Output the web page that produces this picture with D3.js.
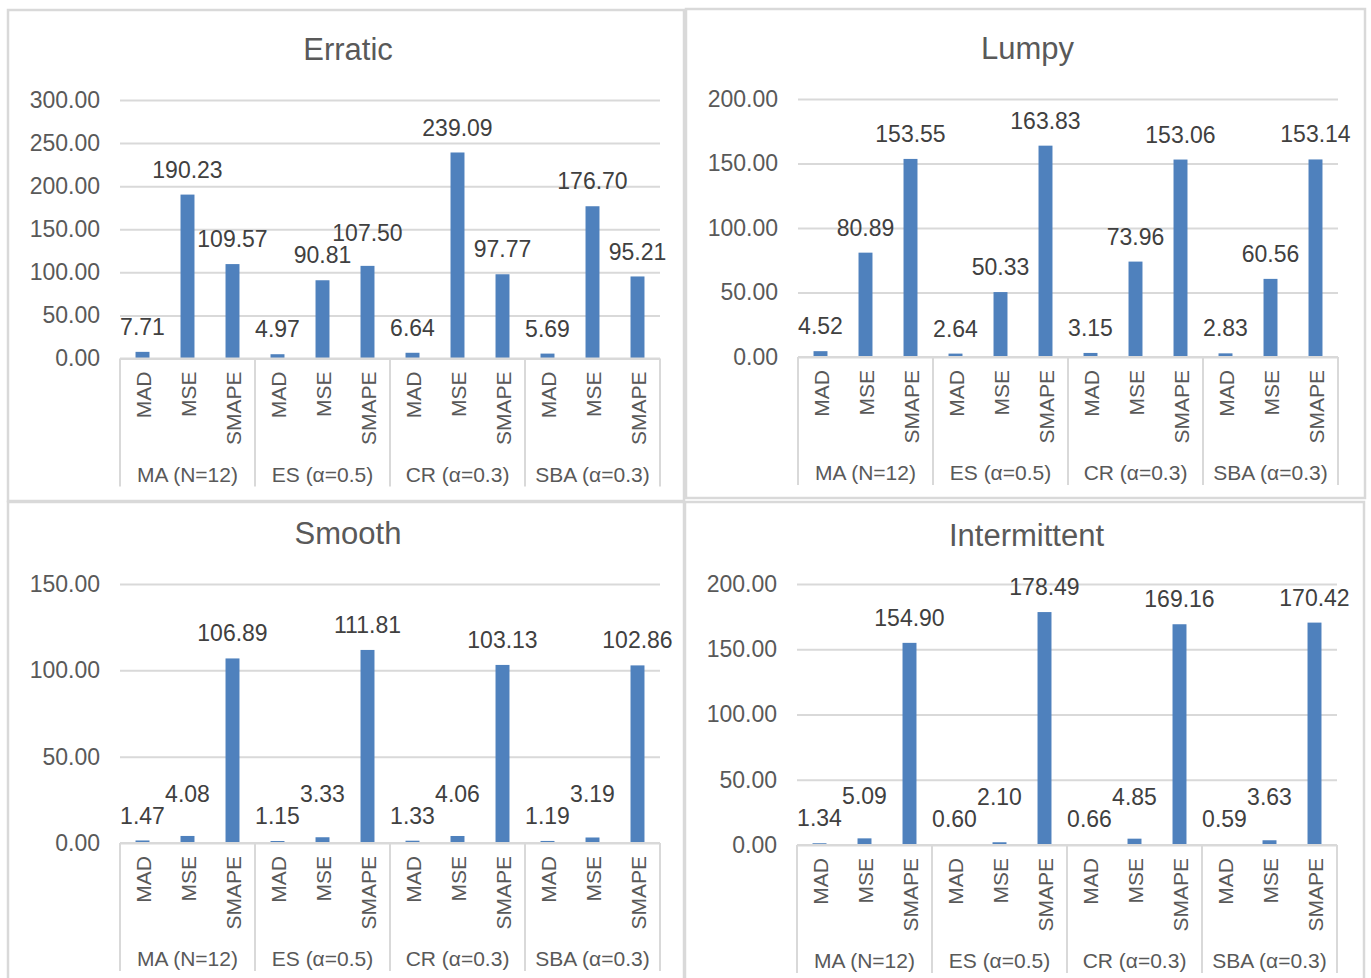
<!DOCTYPE html>
<html>
<head>
<meta charset="utf-8">
<script src="https://cdn.jsdelivr.net/npm/d3@7"></script>
<style>
  html, body { margin: 0; padding: 0; background: #fff; }
  svg { display: block; font-family: "Liberation Sans", Arial, sans-serif; }
</style>
</head>
<body>
<svg id="chart" width="1371" height="978"></svg>
<script>
// Forecasting methods (outer category level) and error metrics (inner level)
const methods = ["MA (N=12)", "ES (α=0.5)", "CR (α=0.3)", "SBA (α=0.3)"];
const metrics = ["MAD", "MSE", "SMAPE"];

// Metric values per demand pattern, ordered method by method: MAD, MSE, SMAPE
const erraticValues      = [7.71, 190.23, 109.57, 4.97, 90.81, 107.50, 6.64, 239.09, 97.77, 5.69, 176.70, 95.21];
const lumpyValues        = [4.52, 80.89, 153.55, 2.64, 50.33, 163.83, 3.15, 73.96, 153.06, 2.83, 60.56, 153.14];
const smoothValues       = [1.47, 4.08, 106.89, 1.15, 3.33, 111.81, 1.33, 4.06, 103.13, 1.19, 3.19, 102.86];
const intermittentValues = [1.34, 5.09, 154.90, 0.60, 2.10, 178.49, 0.66, 4.85, 169.16, 0.59, 3.63, 170.42];

// Value-axis ticks per chart
const erraticTicks      = [0, 50, 100, 150, 200, 250, 300];
const lumpyTicks        = [0, 50, 100, 150, 200];
const smoothTicks       = [0, 50, 100, 150];
const intermittentTicks = [0, 50, 100, 150, 200];

const titles = ["Erratic", "Lumpy", "Smooth", "Intermittent"];

// Layout of the four chart panels
const panels = [
  { title: titles[0], values: erraticValues, ticks: erraticTicks,
    box: [8, 10, 676, 491], plotTop: 100, plotBottom: 358.5, titleY: 49 },
  { title: titles[1], values: lumpyValues, ticks: lumpyTicks,
    box: [686, 9, 679, 489], plotTop: 99, plotBottom: 357, titleY: 48 },
  { title: titles[2], values: smoothValues, ticks: smoothTicks,
    box: [8, 502, 676, 490], plotTop: 584, plotBottom: 843, titleY: 533 },
  { title: titles[3], values: intermittentValues, ticks: intermittentTicks,
    box: [685, 502, 679, 490], plotTop: 584, plotBottom: 845, titleY: 535 }
];

const barColor = "#4F81BD";
const lineColor = "#D9D9D9";
const axisText = "#595959";
const labelText = "#404040";

const svg = d3.select("#chart");
svg.append("rect").attr("width", 1371).attr("height", 978).attr("fill", "#fff");

// Hidden text used to measure label widths for overlap handling
const measurer = svg.append("text").attr("font-size", 23).attr("visibility", "hidden");
function textWidth(s) { measurer.text(s); return measurer.node().getComputedTextLength(); }

panels.forEach(p => {
  const [bx, by, bw, bh] = p.box;
  const g = svg.append("g");

  // panel frame
  g.append("rect")
    .attr("x", bx).attr("y", by).attr("width", bw).attr("height", bh)
    .attr("fill", "#fff").attr("stroke", lineColor).attr("stroke-width", 2.5);

  const left = bx + 112, right = bx + 652;

  // title
  g.append("text")
    .attr("x", bx + bw / 2 + 2).attr("y", p.titleY).attr("dy", "0.35em")
    .attr("text-anchor", "middle").attr("font-size", 31).attr("fill", axisText)
    .text(p.title);

  const y = d3.scaleLinear()
    .domain([0, d3.max(p.ticks)])
    .range([p.plotBottom, p.plotTop]);

  const cats = p.values.map((v, i) => ({
    key: methods[Math.floor(i / 3)] + "|" + metrics[i % 3],
    method: methods[Math.floor(i / 3)],
    metric: metrics[i % 3],
    value: v
  }));

  const x = d3.scaleBand().domain(cats.map(c => c.key)).range([left, right]).padding(0);
  const outer = d3.scaleBand().domain(methods).range([left, right]).padding(0);
  const barW = x.bandwidth() * 0.31;

  // gridlines and tick labels
  const yAxis = d3.axisLeft(y).tickValues(p.ticks).tickSize(-(right - left))
    .tickFormat(d3.format(".2f")).tickPadding(20);
  const ya = g.append("g").attr("transform", `translate(${left},0)`).call(yAxis);
  ya.select(".domain").remove();
  ya.selectAll(".tick line").attr("stroke", lineColor).attr("stroke-width", 2);
  ya.selectAll(".tick text").attr("font-size", 23).attr("fill", axisText)
    .attr("font-family", "Liberation Sans, Arial, sans-serif");

  // bars
  g.selectAll("rect.bar").data(cats).join("rect")
    .attr("class", "bar")
    .attr("x", d => x(d.key) + (x.bandwidth() - barW) / 2)
    .attr("width", barW)
    .attr("y", d => y(d.value))
    .attr("height", d => y(0) - y(d.value))
    .attr("fill", barColor);

  // category axis line, group separators
  g.append("line")
    .attr("x1", left).attr("x2", right).attr("y1", y(0)).attr("y2", y(0))
    .attr("stroke", lineColor).attr("stroke-width", 2);
  const sepEdges = methods.map(m => outer(m)).concat([right]);
  g.selectAll("line.sep").data(sepEdges).join("line")
    .attr("class", "sep")
    .attr("x1", d => d).attr("x2", d => d)
    .attr("y1", y(0)).attr("y2", y(0) + 128)
    .attr("stroke", lineColor).attr("stroke-width", 2);

  // inner category labels (rotated)
  g.selectAll("text.metric").data(cats).join("text")
    .attr("class", "metric")
    .attr("transform", d => `translate(${x(d.key) + x.bandwidth() / 2 + 1},${y(0) + 13}) rotate(-90)`)
    .attr("dy", "0.35em")
    .attr("text-anchor", "end").attr("font-size", 21).attr("fill", axisText)
    .text(d => d.metric);

  // outer category labels
  g.selectAll("text.method").data(methods).join("text")
    .attr("class", "method")
    .attr("x", d => outer(d) + outer.bandwidth() / 2)
    .attr("y", y(0) + 116).attr("dy", "0.35em")
    .attr("text-anchor", "middle").attr("font-size", 21).attr("fill", axisText)
    .text(d => d);

  // value labels, nudged upward when they would collide with a previous label
  const placed = [];
  cats.forEach(d => {
    const text = d3.format(".2f")(d.value);
    const lx = x(d.key) + x.bandwidth() / 2;
    let ly = y(d.value) - 25;
    const w = textWidth(text);
    placed.forEach(q => {
      if (Math.abs(lx - q.x) < (w + q.w) / 2 + 4 && Math.abs(ly - q.y) < 20) ly = q.y - 22;
    });
    placed.push({ x: lx, y: ly, w: w });
    g.append("text")
      .attr("x", lx).attr("y", ly).attr("dy", "0.35em")
      .attr("text-anchor", "middle").attr("font-size", 23).attr("fill", labelText)
      .text(text);
  });
});
measurer.remove();
</script>
</body>
</html>
